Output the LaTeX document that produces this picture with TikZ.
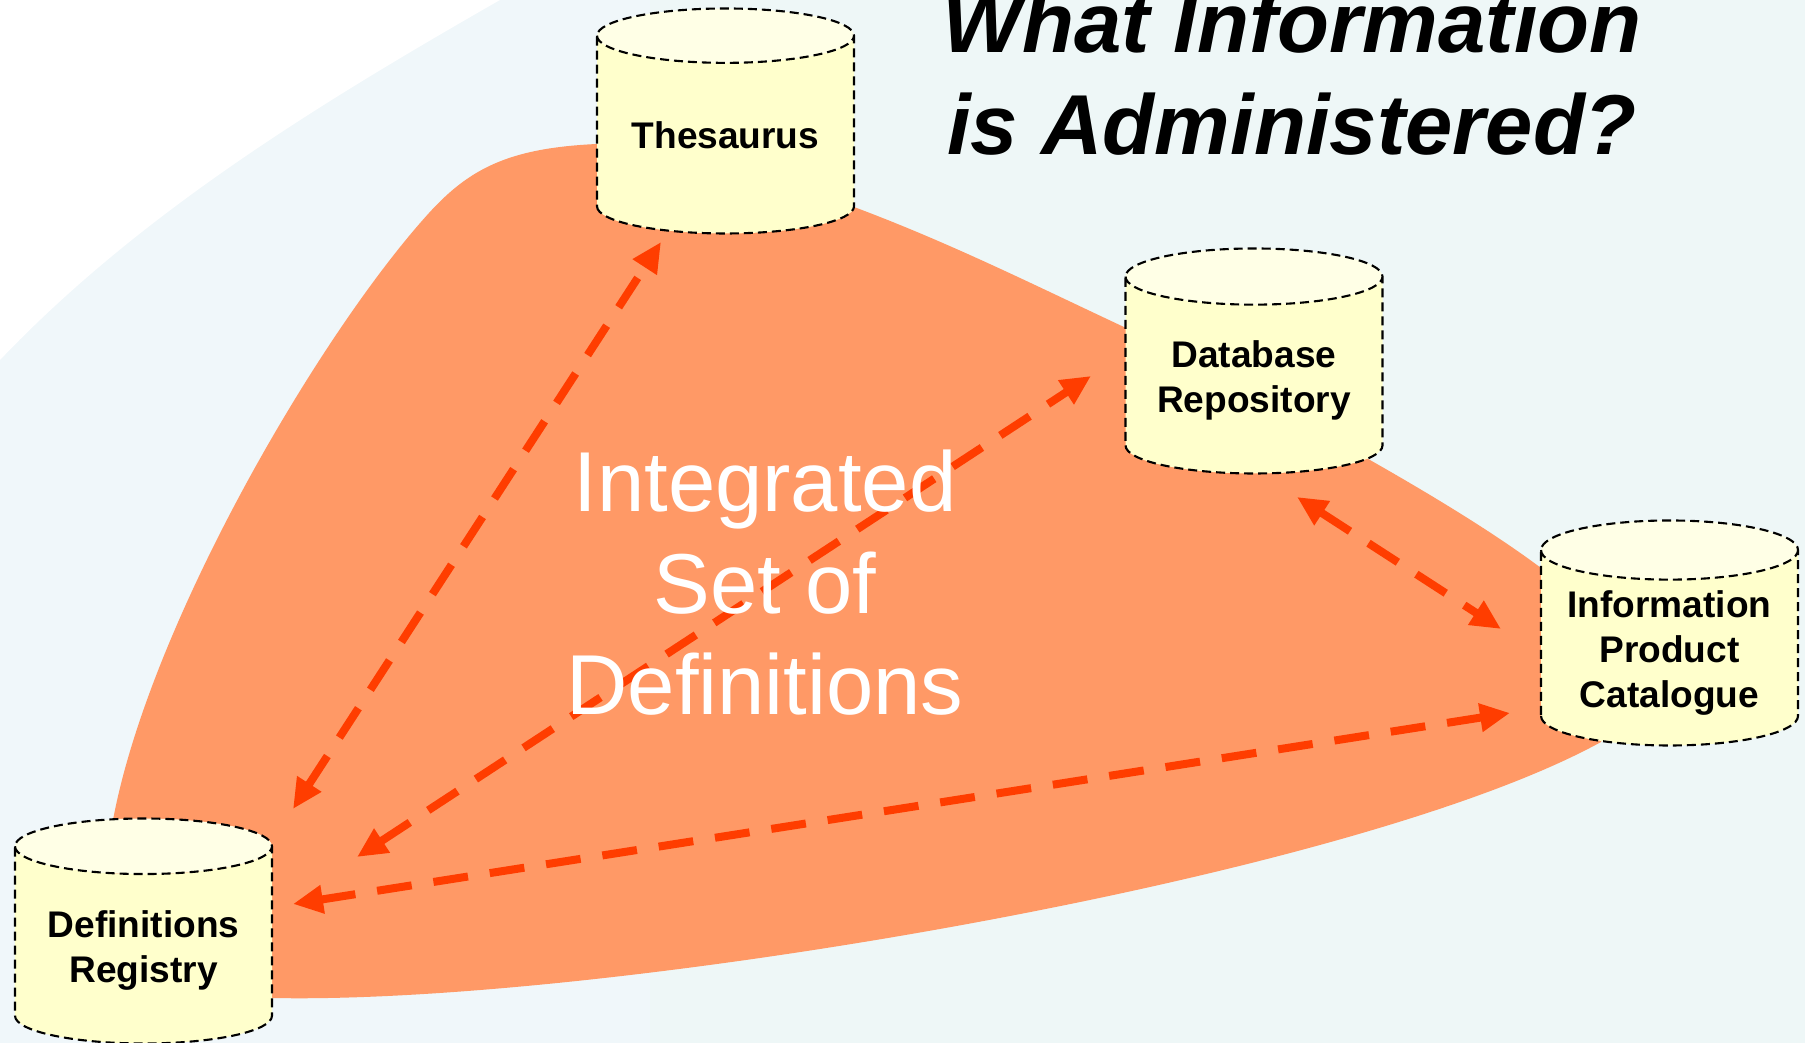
\documentclass[tikz,border=0pt]{standalone}
\usepackage{fontspec}
\setmainfont{Liberation Sans}
\usetikzlibrary{shapes.geometric,arrows.meta}
\definecolor{paleleft}{HTML}{F0F7FA}
\definecolor{paleright}{HTML}{EEF7F7}
\definecolor{blobfill}{HTML}{FF9966}
\definecolor{linkred}{HTML}{FF3D00}
\definecolor{storebody}{HTML}{FFFFCC}
\definecolor{storetop}{HTML}{FFFFE6}
\newcommand{\lowerline}{\rule{0pt}{1em}}
\tikzset{
  store/.style={shape=cylinder,shape border rotate=90,aspect=0.29,draw=black,line width=0.6pt,
    dash pattern=on 0.09cm off 0.05cm,cylinder uses custom fill,cylinder body fill=storebody,
    cylinder end fill=storetop,minimum width=2.57cm,minimum height=2.25cm,inner sep=0pt,outer sep=0pt,
    anchor=shape center,align=center,text=black,font=\bfseries\fontsize{10.55}{12.8}\selectfont},
  linkarrow/.style={<->,draw=linkred,line width=0.08cm,dash pattern=on 0.35cm off 0.22cm},
  titletext/.style={align=center,font=\bfseries\itshape\fontsize{24.2}{29}\selectfont},
  coretext/.style={align=center,text=white,font=\fontsize{24.2}{28.9}\selectfont}
}
\begin{document}
\begin{tikzpicture}[>={Triangle[length=0.3cm,width=0.27cm]}]
\useasboundingbox (0,0) rectangle (18.05,10.43);
\fill[paleleft] (0,0) rectangle (6.5,10.43);
\fill[paleright] (6.5,0) rectangle (18.05,10.43);
\fill[white] (0,6.83) .. controls (1.4,8.3) and (3.2,9.4) .. (5,10.43)--(0,10.43)--cycle;
\fill[blobfill] (5.97,8.99) .. controls (5.1,8.95) and (4.7,8.75) .. (4.29,8.3)
  .. controls (3.2,7.1) and (1.5,4.2) .. (1.13,2.23)--(1.13,0.45)--(2.72,0.45)
  .. controls (6,0.38) and (13.5,1.63) .. (16.01,3.01)--(16.5,4.43)--(15.41,4.75)
  .. controls (14.5,5.43) and (13,6.23) .. (11.26,7.15)
  .. controls (10.3,7.6) and (9.5,8) .. (8.54,8.36)--(7,9)--cycle;
\node[store] (thesaurus) at (7.255,9.22) {Thesaurus};
\node[store] (repository) at (12.54,6.82) {\lowerline Database\\Repository};
\node[store] (catalogue) at (16.695,4.1) {\lowerline Information\\Product\hspace*{0.25em}\\Catalogue};
\node[store] (registry) at (1.435,1.12) {\lowerline Definitions\\Registry};
\draw[linkarrow] ([shift={(1.495,1.22)}]registry.shape center)--([shift={(-0.645,-1.21)}]thesaurus.shape center);
\draw[linkarrow] ([shift={(2.135,0.74)}]registry.shape center)--([shift={(-1.63,-0.15)}]repository.shape center);
\draw[linkarrow] ([shift={(0.43,-1.36)}]repository.shape center)--([shift={(-1.685,0.04)}]catalogue.shape center);
\draw[linkarrow] ([shift={(1.495,0.27)}]registry.shape center)--([shift={(-1.595,-0.8)}]catalogue.shape center);
\node[coretext] (setofdefs) at (7.65,4.6) {Integrated\\Set of\\Definitions};
\node[titletext] (question) at (12.92,9.7) {What Information\\is Administered?};
\end{tikzpicture}
\end{document}
